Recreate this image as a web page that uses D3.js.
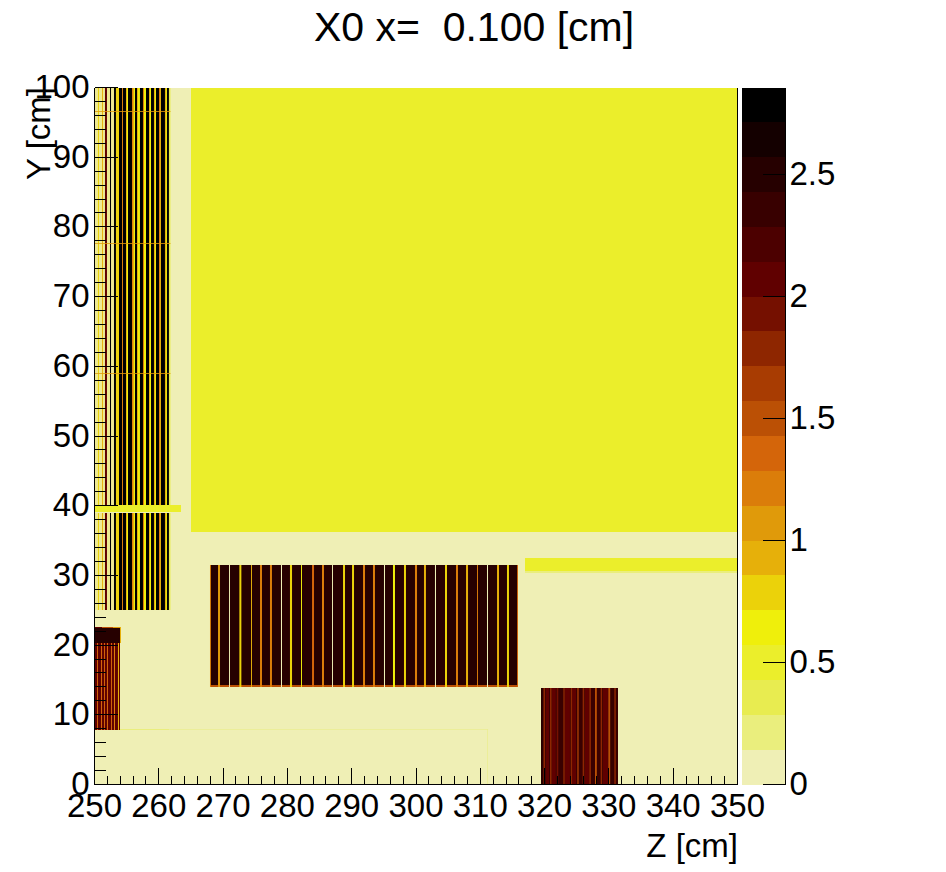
<!DOCTYPE html>
<html>
<head>
<meta charset="utf-8">
<script src="https://cdn.jsdelivr.net/npm/d3@7"></script>
<style>
    html, body { margin: 0; padding: 0; background: #fff; }
    text { font-family: "Liberation Sans", Arial, sans-serif; fill: #000; }
    .tick text { font-family: "Liberation Sans", Arial, sans-serif; fill: #000; }
</style>
</head>
<body>
<div id="chart"></div>
<script>
// colour levels, bottom to top of the palette
var levelColors = ["#efefb5", "#eaee7d", "#e8ec50", "#ebee2b", "#efef0b", "#ebd20a", "#e6b00a", "#e09a0a", "#db7d0a", "#d4650a",
    "#bb5005", "#a83c02", "#8e2600", "#751000", "#600000", "#4c0000", "#380000", "#260000", "#140000", "#000000"];
var maxValue = 2.855;

var xMajor = [250, 260, 270, 280, 290, 300, 310, 320, 330, 340, 350];
var xMinor = [252, 254, 256, 258, 262, 264, 266, 268, 272, 274, 276, 278, 282, 284, 286, 288, 292, 294, 296, 298, 302, 304, 306, 308,
    312, 314, 316, 318, 322, 324, 326, 328, 332, 334, 336, 338, 342, 344, 346, 348];
var yMajor = [0, 10, 20, 30, 40, 50, 60, 70, 80, 90, 100];
var yMinor = [2, 4, 6, 8, 12, 14, 16, 18, 22, 24, 26, 28, 32, 34, 36, 38, 42, 44, 46, 48, 52, 54, 56, 58, 62, 64, 66, 68,
    72, 74, 76, 78, 82, 84, 86, 88, 92, 94, 96, 98];
var paletteTicks = [0, 0.5, 1, 1.5, 2, 2.5];

// filled regions: [z0, z1, y0, y1, value]
var regions = [
    [250, 350, 0, 100, 0.05],
    [265.01, 350, 36.23, 100, 0.45],
    [316.95, 350, 30.63, 32.5, 0.45],
    [316.95, 350, 30.35, 30.63, 0.2],
    [250, 263.45, 39.09, 40.1, 0.45],
    [250, 261.6, 7.75, 7.95, 0.2],
    [253.97, 254.12, 20.3, 22.6, 0.95],
    [250, 253.97, 20.3, 22.45, 2.5],
    [250, 251.17, 22.45, 22.6, 2.1],
    [251.17, 252.88, 22.45, 22.6, 1.5],
    [252.88, 253.97, 22.45, 22.6, 1.1],
    [250, 253.89, 7.83, 20.3, 2.1],
    [267.96, 315.86, 13.99, 31.49, 2.5],
    [267.96, 315.86, 13.99, 14.27, 1.5],
    [319.44, 331.41, 0, 13.85, 2.3]
];

// stripes of the upper left layers: [z0, z1, value]
var stripesA = [
    [250.54, 250.70, 0.8], [251.17, 251.32, 0.95], [251.63, 251.94, 2.0], [252.41, 252.57, 2.8], [253.03, 253.34, 2.8],
    [253.34, 253.81, 0.8], [253.81, 254.28, 2.8], [254.28, 254.43, 1.25], [254.43, 254.90, 2.8], [254.90, 255.05, 0.95],
    [255.05, 255.21, 0.65], [255.21, 255.83, 2.8], [255.83, 255.98, 1.25], [255.98, 256.14, 0.95], [256.14, 256.30, 0.65],
    [256.30, 256.61, 2.8], [256.61, 256.76, 0.95], [256.76, 257.07, 0.65], [257.07, 257.54, 2.8], [257.54, 257.70, 1.25],
    [257.70, 258.01, 0.65], [258.01, 258.48, 2.8], [258.48, 258.63, 0.95], [258.63, 258.79, 0.65], [258.79, 259.25, 2.8],
    [259.25, 259.41, 0.95], [259.41, 259.56, 0.65], [259.56, 260.03, 2.8], [260.03, 260.19, 1.25], [260.19, 260.34, 0.95],
    [260.34, 260.96, 2.8], [260.96, 261.12, 0.95], [261.12, 261.27, 0.65], [261.27, 261.58, 2.8], [261.58, 261.81, 0.3]
];
var seamsA = [96.56, 77.7, 59.0];

// lower left block
var stripesB = [
    [250.39, 250.54, 1.4], [251.01, 251.17, 1.4], [251.48, 251.63, 1.4], [251.94, 252.10, 1.4],
    [252.57, 252.72, 1.4], [253.03, 253.19, 1.25], [253.65, 253.81, 0.95]
];

// middle block
var stripesC = [
    [267.96, 268.11, 1.25], [269.21, 269.52, 1.05], [270.92, 271.07, 0.05], [272.53, 272.84, 0.8], [274.34, 274.49, 0.95],
    [275.74, 276.05, 1.25], [277.29, 277.60, 1.25], [279.00, 279.16, 0.05], [280.40, 280.72, 0.8], [282.12, 282.27, 0.65],
    [283.83, 284.14, 1.4], [285.38, 285.69, 1.25], [286.94, 287.09, 0.05], [288.65, 288.96, 0.8], [290.05, 290.36, 0.8],
    [291.76, 292.07, 1.25], [293.31, 293.62, 1.25], [295.02, 295.18, 0.05], [296.42, 296.73, 0.65], [298.13, 298.44, 0.8],
    [299.84, 300.16, 1.25], [301.24, 301.55, 0.95], [302.95, 303.11, 0.05], [304.51, 304.82, 0.8], [306.22, 306.53, 1.25],
    [307.78, 308.09, 0.95], [309.49, 309.64, 1.25], [311.04, 311.20, 0.05], [312.60, 312.91, 0.95], [314.15, 314.46, 0.8],
    [315.71, 315.86, 1.4]
];

// lower right block
var stripesD = [
    [319.44, 319.70, 2.5], [320.22, 320.68, 2.1], [321.15, 321.74, 2.1], [323.17, 323.94, 2.1], [324.28, 324.90, 2.1],
    [326.28, 326.90, 2.1], [329.08, 329.85, 2.1],
    [319.83, 320.08, 1.8], [320.84, 321.09, 1.8], [321.88, 322.13, 1.95], [322.91, 323.13, 1.8], [324.06, 324.28, 1.8],
    [325.08, 325.30, 1.6], [325.92, 326.17, 1.8], [326.95, 327.20, 1.8], [327.84, 328.12, 1.5], [328.72, 328.95, 1.8],
    [329.91, 330.20, 1.5], [330.84, 331.07, 1.8]
];

var x = d3.scaleLinear().domain([250, 350]).range([94.5, 737.5]);
var y = d3.scaleLinear().domain([0, 100]).range([784.5, 87.5]);
var color = d3.scaleQuantize().domain([0, maxValue]).range(levelColors);
var paletteY = d3.scaleLinear().domain([0, maxValue]).range([784.5, 87.5]);

var svg = d3.select("#chart")
    .append("svg")
    .attr("width", 946)
    .attr("height", 872)
    .style("display", "block");

var image = svg.append("g");

image.selectAll("rect.region")
    .data(regions)
    .enter()
    .append("rect")
    .attr("class", "region")
    .attr("x", function(d) { return x(d[0]); })
    .attr("width", function(d) { return x(d[1]) - x(d[0]); })
    .attr("y", function(d) { return y(d[3]); })
    .attr("height", function(d) { return y(d[2]) - y(d[3]); })
    .attr("fill", function(d) { return color(d[4]); })
    .attr("shape-rendering", "crispEdges");

// the thin layers of block A fall between the bins, so its ground looks washed out
image.append("rect")
    .attr("x", x(250))
    .attr("width", x(261.27) - x(250))
    .attr("y", y(100))
    .attr("height", y(40.1) - y(100))
    .attr("fill", color(0.8))
    .attr("opacity", 0.2)
    .attr("shape-rendering", "crispEdges");
image.append("rect")
    .attr("x", x(250))
    .attr("width", x(261.27) - x(250))
    .attr("y", y(38.9))
    .attr("height", y(25) - y(38.9))
    .attr("fill", color(0.8))
    .attr("opacity", 0.2)
    .attr("shape-rendering", "crispEdges");

function drawStripes(name, stripes, y0, y1) {
    image.selectAll("rect." + name)
        .data(stripes)
        .enter()
        .append("rect")
        .attr("class", name)
        .attr("x", function(d) { return x(d[0]); })
        .attr("width", function(d) { return x(d[1]) - x(d[0]); })
        .attr("y", Math.round(y(y1)))
        .attr("height", Math.round(y(y0)) - Math.round(y(y1)))
        .attr("fill", function(d) { return color(d[2]); });
}

drawStripes("stripe-a1", stripesA, 40.1, 100);
drawStripes("stripe-a2", stripesA, 25, 38.9);
drawStripes("stripe-b", stripesB, 7.83, 20.3);
drawStripes("stripe-c", stripesC, 13.99, 31.49);
drawStripes("stripe-d", stripesD, 0, 13.85);

image.selectAll("rect.seam")
    .data(seamsA)
    .enter()
    .append("rect")
    .attr("class", "seam")
    .attr("x", x(250))
    .attr("width", x(261.81) - x(250))
    .attr("y", function(d) { return Math.round(y(d)); })
    .attr("height", 1)
    .attr("fill", color(1.1))
    .attr("opacity", 0.8);

// faint box at the bottom
image.append("rect")
    .attr("x", x(261.6))
    .attr("width", x(311.2) - x(261.6))
    .attr("y", Math.round(y(7.9)))
    .attr("height", 1)
    .attr("fill", color(0.2))
    .attr("opacity", 0.5);
image.append("rect")
    .attr("x", Math.round(x(311.1)))
    .attr("width", 1)
    .attr("y", y(7.9))
    .attr("height", y(0) - y(7.9))
    .attr("fill", color(0.2))
    .attr("opacity", 0.5);

// palette
image.selectAll("rect.level")
    .data(levelColors)
    .enter()
    .append("rect")
    .attr("class", "level")
    .attr("x", 742)
    .attr("width", 43)
    .attr("y", function(d, i) { return paletteY((i + 1) * maxValue / levelColors.length); })
    .attr("height", paletteY(0) - paletteY(maxValue / levelColors.length))
    .attr("fill", function(d) { return d; })
    .attr("shape-rendering", "crispEdges");

// axes
function styleAxis(g) {
    g.selectAll("path").attr("stroke", "#000").attr("stroke-width", 1).attr("shape-rendering", "crispEdges");
    g.selectAll("line").attr("stroke", "#000").attr("stroke-width", 1).attr("shape-rendering", "crispEdges");
    g.selectAll("text").attr("font-size", 33);
}

svg.append("g")
    .attr("transform", "translate(0,784.5)")
    .call(d3.axisBottom(x).tickValues(xMinor).tickSizeInner(-9).tickSizeOuter(0).tickFormat("").offset(0))
    .call(styleAxis);
svg.append("g")
    .attr("transform", "translate(0,784.5)")
    .call(d3.axisBottom(x).tickValues(xMajor).tickSizeInner(-17).tickSizeOuter(0).tickPadding(9).tickFormat(d3.format("d")).offset(0))
    .call(styleAxis);

svg.append("g")
    .attr("transform", "translate(94.5,0)")
    .call(d3.axisLeft(y).tickValues(yMinor).tickSizeInner(-11).tickSizeOuter(0).tickFormat("").offset(0))
    .call(styleAxis);
svg.append("g")
    .attr("transform", "translate(94.5,0)")
    .call(d3.axisLeft(y).tickValues(yMajor).tickSizeInner(-23).tickSizeOuter(0).tickPadding(5).tickFormat(d3.format("d")).offset(0))
    .call(styleAxis);

// right edge of the frame
svg.append("line")
    .attr("x1", 737.5)
    .attr("x2", 737.5)
    .attr("y1", y(100))
    .attr("y2", y(0))
    .attr("stroke", "#000")
    .attr("shape-rendering", "crispEdges");

svg.append("g")
    .attr("transform", "translate(785.5,0)")
    .call(d3.axisRight(paletteY).tickValues(paletteTicks).tickSizeInner(-23).tickSizeOuter(0).tickPadding(4).tickFormat(d3.format("")).offset(0))
    .call(styleAxis);

// titles
svg.append("text")
    .attr("x", 474)
    .attr("y", 41)
    .attr("text-anchor", "middle")
    .attr("font-size", 41)
    .style("white-space", "pre")
    .text("X0 x=  0.100 [cm]");

svg.append("text")
    .attr("x", 738)
    .attr("y", 857)
    .attr("text-anchor", "end")
    .attr("font-size", 33)
    .text("Z [cm]");

svg.append("text")
    .attr("transform", "translate(50,87) rotate(-90)")
    .attr("text-anchor", "end")
    .attr("font-size", 33)
    .text("Y [cm]");
</script>
</body>
</html>
